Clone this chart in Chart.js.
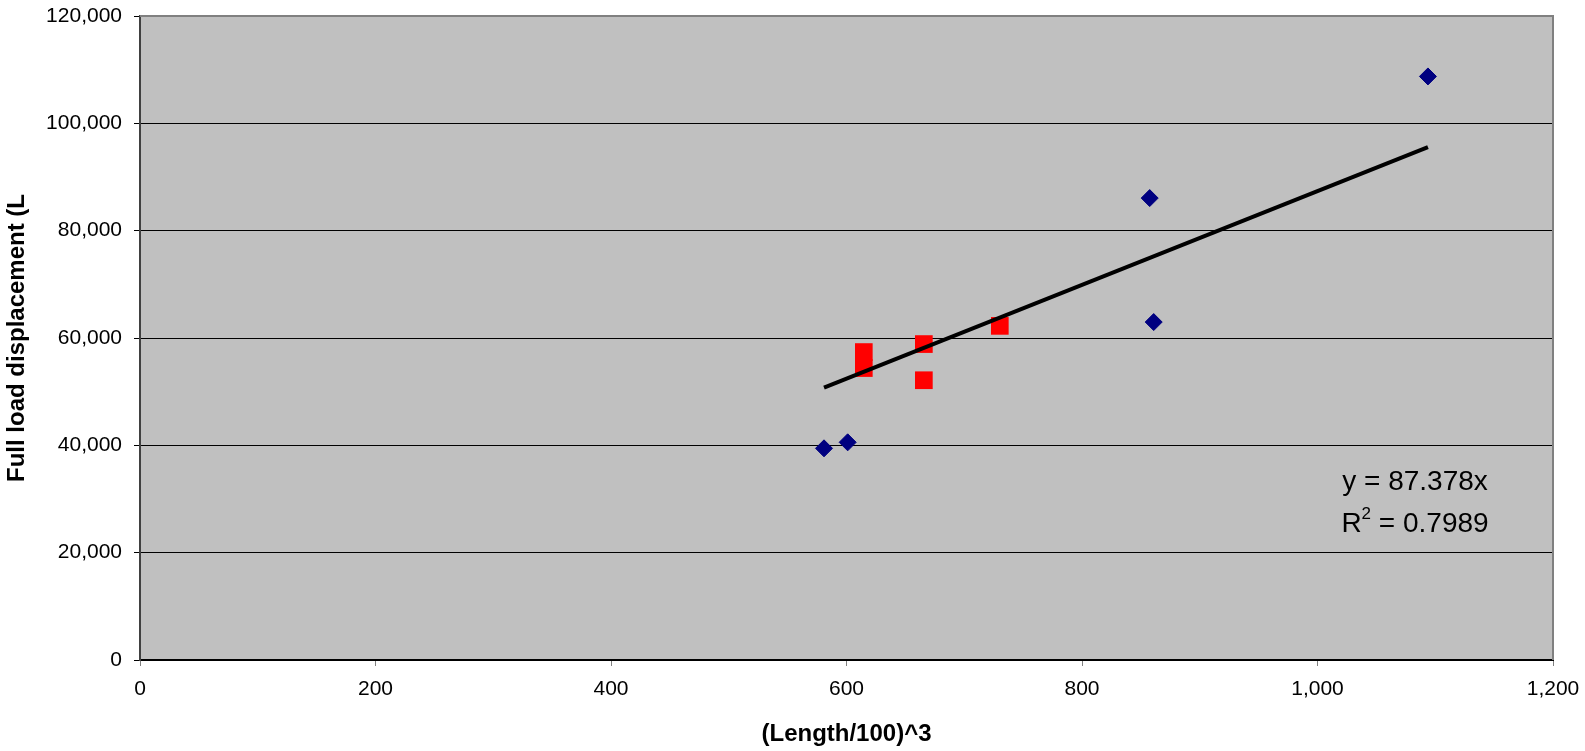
<!DOCTYPE html>
<html lang="en">
	<head>
		<meta charset="UTF-8" />
		<title>Full load displacement vs (Length/100)^3</title>
		<script src="https://cdn.jsdelivr.net/npm/chart.js"></script>
		<style>
			html,
			body {
				margin: 0;
				padding: 0;
				background: #fff;
			}
			#wrap {
				width: 1585px;
				height: 751px;
			}
		</style>
	</head>
	<body>
		<div id="wrap">
			<canvas id="dispChart" width="1585" height="751"></canvas>
		</div>

		<script>
			// first series (diamonds)
			const blueX = [580.9, 601.0, 857.5, 860.9, 1093.8];
			const blueY = [39440, 40560, 86070, 62970, 108740];

			// second series (squares)
			const redX = [614.7, 614.7, 665.7, 665.7, 730.2];
			const redY = [57380, 54400, 58870, 52130, 62260];

			// linear trend through the origin, fitted on the diamonds
			const slope = 87.378;
			const rSquared = "0.7989";

			const xMin = 0, xMax = 1200, xStep = 200;
			const yMin = 0, yMax = 120000, yStep = 20000;

			const toPoints = (xs, ys) => xs.map((x, i) => ({ x: x, y: ys[i] }));

			const trendX = [Math.min(...blueX), Math.max(...blueX)];
			const trendPoints = trendX.map((x) => ({ x: x, y: slope * x }));

			const FONT = '"Liberation Sans", Arial, sans-serif';
			Chart.defaults.font.family = FONT;
			Chart.defaults.color = "#000";

			// keep label overhang from pushing the plot box around
			function noOverhang(scale) {
				scale.paddingTop = 0;
				scale.paddingBottom = 0;
				scale.paddingLeft = 0;
				scale.paddingRight = 0;
			}

			const plotBox = {
				id: "plotBox",
				beforeDraw(chart) {
					const { ctx, chartArea: a } = chart;
					ctx.save();
					ctx.fillStyle = "#c0c0c0";
					ctx.fillRect(a.left, a.top, a.right - a.left, a.bottom - a.top);
					ctx.restore();
				},
				beforeDatasetsDraw(chart) {
					// gray frame on top and right
					const { ctx, chartArea: a } = chart;
					ctx.save();
					ctx.strokeStyle = "#808080";
					ctx.lineWidth = 2;
					ctx.beginPath();
					ctx.moveTo(a.left, a.top);
					ctx.lineTo(a.right, a.top);
					ctx.lineTo(a.right, a.bottom);
					ctx.stroke();
					ctx.restore();
				},
			};

			const trendLabel = {
				id: "trendLabel",
				afterDatasetsDraw(chart) {
					const { ctx, chartArea: a } = chart;
					const cx = a.right - 138;
					ctx.save();
					ctx.fillStyle = "#000";
					ctx.textBaseline = "alphabetic";
					ctx.font = "28px " + FONT;
					ctx.textAlign = "center";
					ctx.fillText("y = " + slope + "x", cx, 490);

					// R² line, superscript drawn by hand
					const rest = " = " + rSquared;
					const wR = ctx.measureText("R").width;
					const wRest = ctx.measureText(rest).width;
					ctx.font = "17px " + FONT;
					const wSup = ctx.measureText("2").width;
					const x0 = cx - (wR + wSup + wRest) / 2;
					ctx.textAlign = "left";
					ctx.font = "28px " + FONT;
					ctx.fillText("R", x0, 532);
					ctx.fillText(rest, x0 + wR + wSup, 532);
					ctx.font = "17px " + FONT;
					ctx.fillText("2", x0 + wR, 519);
					ctx.restore();
				},
			};

			new Chart(document.getElementById("dispChart"), {
				type: "scatter",
				data: {
					datasets: [
						{
							type: "line",
							data: trendPoints,
							borderColor: "#000",
							borderWidth: 4,
							pointRadius: 0,
							fill: false,
						},
						{
							data: toPoints(blueX, blueY),
							pointStyle: "rectRot",
							pointRadius: 8.5,
							backgroundColor: "#000080",
							borderColor: "#000080",
							borderWidth: 1,
						},
						{
							data: toPoints(redX, redY),
							pointStyle: "rect",
							pointRadius: 12.5,
							backgroundColor: "#ff0000",
							borderWidth: 0,
						},
					],
				},
				options: {
					responsive: false,
					animation: false,
					devicePixelRatio: 1,
					layout: {
						padding: { top: 16, right: 32, left: 0, bottom: 0 },
					},
					plugins: {
						legend: { display: false },
						tooltip: { enabled: false },
					},
					scales: {
						x: {
							type: "linear",
							min: xMin,
							max: xMax,
							afterFit(scale) {
								scale.height = 91;
								noOverhang(scale);
							},
							ticks: {
								stepSize: xStep,
								font: { size: 21 },
								padding: 11,
								maxRotation: 0,
								callback: (v) => v.toLocaleString("en-US"),
							},
							grid: {
								drawOnChartArea: false,
								tickLength: 6,
								tickColor: "#808080",
							},
							border: { color: "#000", width: 2 },
							title: {
								display: true,
								text: "(Length/100)^3",
								font: { size: 24, weight: "bold" },
								padding: { top: 0, bottom: 2.6 },
							},
						},
						y: {
							min: yMin,
							max: yMax,
							afterFit(scale) {
								scale.width = 140;
								noOverhang(scale);
							},
							ticks: {
								stepSize: yStep,
								font: { size: 21 },
								padding: 12,
								callback: (v) => v.toLocaleString("en-US"),
							},
							grid: {
								color: (c) => (c.tick && c.tick.value === yMax ? "rgba(0,0,0,0)" : "#000"),
								lineWidth: 1,
								tickLength: 6,
								tickColor: "#000",
							},
							border: { color: "#404040", width: 2 },
							title: {
								display: true,
								text: "Full load displacement (L",
								font: { size: 24, weight: "bold" },
								padding: { top: 2.6, bottom: 0 },
							},
						},
					},
				},
				plugins: [plotBox, trendLabel],
			});
		</script>
	</body>
</html>
